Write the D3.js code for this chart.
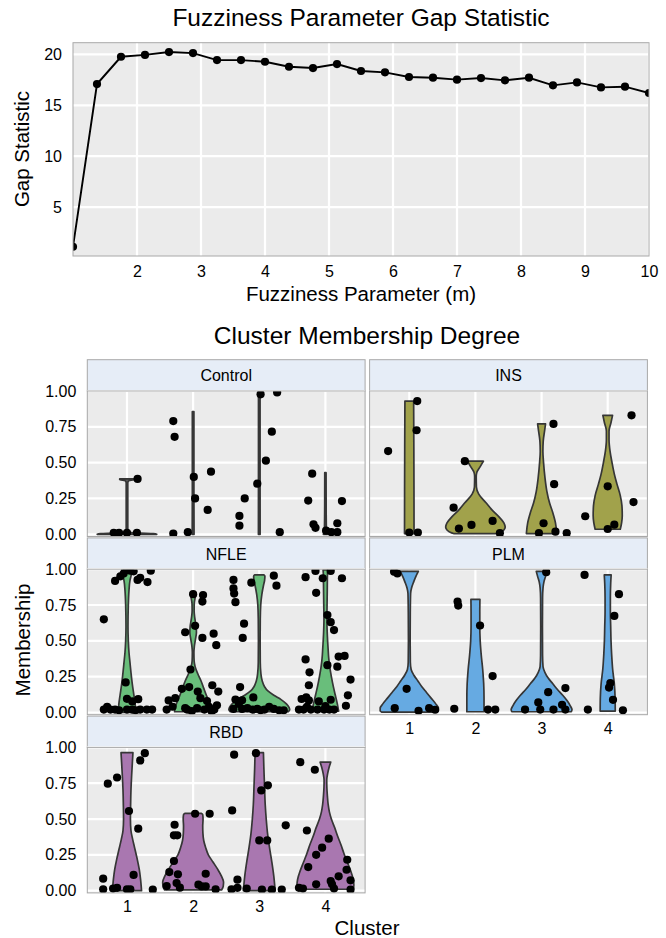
<!DOCTYPE html>
<html>
<head>
<meta charset="utf-8">
<script src="https://cdn.jsdelivr.net/npm/d3@7"></script>
<style>
  body { margin: 0; background: #fff; }
  svg { font-family: "Liberation Sans", Arial, sans-serif; }
</style>
</head>
<body>
<svg id="graph"></svg>
<script>
// ---- top chart data ----
var gapM = [1, 1.375, 1.75, 2.125, 2.5, 2.875, 3.25, 3.625, 4, 4.375, 4.75, 5.125, 5.5,
  5.875, 6.25, 6.625, 7, 7.375, 7.75, 8.125, 8.5, 8.875, 9.25, 9.625, 10];
var gapStat = [1.11, 17.09, 19.77, 19.95, 20.23, 20.13, 19.44, 19.44, 19.28, 18.79, 18.66, 19.05, 18.37,
  18.24, 17.78, 17.71, 17.52, 17.68, 17.45, 17.71, 16.96, 17.25, 16.76, 16.83, 16.21];
var gapXTicks = [2, 3, 4, 5, 6, 7, 8, 9, 10];
var gapYTicks = [5, 10, 15, 20];

// ---- facet data ----
var groups = ['Control', 'INS', 'NFLE', 'PLM', 'RBD'];
var clusters = [1, 2, 3, 4];
var memberTicks = [0, 0.25, 0.5, 0.75, 1];

// points: [jittered cluster position, membership]
var pointsControl = [[0.80,0.01],[0.88,0.01],[1.00,0.01],[1.15,0.01],[1.16,0.386],
  [1.70,0.79],[1.72,0.68],[1.70,0.005],[1.92,0.015],[2.01,0.40],[2.03,0.25],[2.27,0.437],[2.22,0.17],
  [2.70,0.128],[2.70,0.06],[2.78,0.25],[2.97,0.353],[3.02,0.977],[3.27,0.99],[3.19,0.716],[3.10,0.514],[3.31,0.015],
  [3.80,0.423],[3.74,0.235],[3.82,0.07],[3.85,0.045],[4.01,0.025],[4.09,0.015],[4.18,0.015],[4.18,0.077],[4.25,0.232]];
var pointsINS = [[0.68,0.581],[1.12,0.93],[1.11,0.726],[1.0,0.012],[1.13,0.012],
  [1.84,0.51],[1.67,0.186],[1.75,0.04],[1.94,0.065],[2.26,0.093],[2.37,0.008],
  [3.18,0.77],[3.19,0.35],[3.03,0.077],[2.96,0.008],[3.21,0.018],[3.38,0.008],
  [4.36,0.83],[4.0,0.335],[4.39,0.225],[3.66,0.126],[4.10,0.067],[4.0,0.037]];
var pointsNFLE = [[0.82,0.918],[0.90,0.95],[0.95,0.97],[1.0,0.995],[1.05,0.99],[1.16,0.925],[1.2,0.94],[1.31,0.91],
  [1.36,0.99],[1.1,0.985],[0.65,0.65],[0.98,0.21],[1.0,0.095],[1.08,0.077],[1.17,0.093],[0.65,0.02],[0.70,0.04],
  [0.75,0.02],[0.82,0.02],[1.0,0.02],[1.08,0.02],[1.2,0.02],[1.30,0.02],[1.38,0.02],[0.88,0.015],[1.13,0.015],
  [2.0,0.826],[2.15,0.82],[2.14,0.774],[1.88,0.56],[2.03,0.605],[2.14,0.52],[2.31,0.55],[2.35,0.47],[1.96,0.30],
  [1.83,0.165],[1.94,0.177],[2.07,0.146],[2.29,0.19],[2.38,0.146],[1.63,0.084],[1.73,0.10],[2.11,0.10],[2.21,0.08],
  [1.6,0.02],[1.69,0.04],[1.88,0.03],[1.91,0.02],[2.06,0.03],[2.17,0.02],[2.24,0.04],[2.32,0.02],[2.36,0.05],[1.98,0.01],[2.28,0.01],
  [2.61,0.925],[2.61,0.866],[2.62,0.83],[2.64,0.77],[2.88,0.906],[3.22,0.955],[3.26,0.885],[2.77,0.62],[2.75,0.52],
  [2.71,0.177],[2.91,0.105],[2.64,0.09],[2.69,0.06],[2.74,0.085],[2.61,0.025],[2.74,0.025],[2.82,0.03],[2.97,0.025],
  [3.02,0.015],[3.15,0.04],[3.22,0.025],[3.30,0.015],[3.37,0.015],[2.9,0.02],[3.08,0.02],
  [3.70,0.944],[3.85,0.988],[4.08,0.988],[3.96,0.937],[4.25,0.937],[3.86,0.835],[4.03,0.68],[4.08,0.63],[4.13,0.575],
  [3.70,0.37],[3.76,0.28],[3.75,0.19],[4.03,0.33],[4.20,0.39],[4.29,0.395],[4.18,0.32],[4.38,0.23],[4.34,0.12],
  [4.31,0.047],[3.64,0.094],[3.71,0.105],[3.75,0.084],[3.90,0.077],[4.08,0.089],[3.60,0.02],[3.67,0.02],[3.78,0.02],
  [3.88,0.02],[3.98,0.02],[4.06,0.02],[4.13,0.02],[3.72,0.04],[4.0,0.045]];
var pointsPLM = [[0.77,0.983],[0.82,0.97],[0.96,0.165],[0.78,0.03],[1.14,0.012],[1.30,0.03],[1.39,0.019],
  [1.73,0.774],[1.74,0.746],[2.07,0.607],[2.26,0.254],[1.68,0.026],[2.19,0.02],[2.30,0.02],
  [3.07,0.979],[3.10,0.142],[3.36,0.17],[2.95,0.07],[3.31,0.054],[2.75,0.02],[2.98,0.02],[3.18,0.02],[3.36,0.02],
  [3.65,0.96],[4.17,0.826],[4.10,0.674],[4.04,0.205],[4.02,0.174],[4.08,0.088],[3.70,0.02],[4.23,0.015]];
var pointsRBD = [[0.71,0.747],[0.85,0.79],[1.03,0.556],[1.17,0.433],[1.20,0.909],[1.27,0.96],[1.10,0.11],[0.64,0.084],
  [0.64,0.01],[0.79,0.015],[0.85,0.02],[1.0,0.01],[1.05,0.01],[1.39,0.008],
  [1.72,0.46],[1.71,0.386],[1.76,0.386],[1.71,0.207],[1.64,0.13],[1.77,0.114],[2.03,0.537],[2.25,0.537],[2.19,0.118],
  [1.6,0.032],[1.75,0.053],[1.8,0.021],[2.08,0.042],[2.13,0.03],[2.19,0.03],[2.34,0.01],
  [2.62,0.949],[2.95,0.96],[2.59,0.56],[3.03,0.70],[3.13,0.735],[3.0,0.351],[3.12,0.351],[3.40,0.456],[2.67,0.077],
  [2.58,0.01],[2.67,0.02],[2.81,0.015],[3.04,0.008],[3.19,0.008],[3.34,0.008],
  [3.62,0.897],[3.84,0.844],[3.72,0.42],[4.05,0.363],[3.95,0.30],[3.86,0.25],[3.74,0.165],[4.33,0.216],[4.32,0.146],
  [4.20,0.10],[4.38,0.072],[3.86,0.044],[4.08,0.067],[4.10,0.044],[3.60,0.02],[3.66,0.015],[4.13,0.015],[4.38,0.008]];

// violin profiles per cluster: [membership, half width of density (cluster units)]
var violinControl = [
  [[0,0.45],[0.004,0.4],[0.008,0.2],[0.013,0.02],[0.03,0.012],[0.36,0.012],[0.375,0.03],[0.38,0.11],[0.386,0.11]],
  [[0,0.014],[0.3,0.012],[0.6,0.012],[0.856,0.012]],
  [[0,0.013],[0.5,0.012],[0.99,0.012]],
  [[0,0.03],[0.03,0.015],[0.2,0.011],[0.43,0.01]]];
var violinINS = [
  [[0.005,0.072],[0.3,0.071],[0.6,0.069],[0.93,0.066]],
  [[0.005,0.33],[0.01,0.36],[0.03,0.43],[0.05,0.45],[0.08,0.43],[0.12,0.36],[0.17,0.25],[0.22,0.16],[0.28,0.05],
   [0.33,0.015],[0.40,0.012],[0.43,0.02],[0.47,0.07],[0.51,0.12]],
  [[0.005,0.23],[0.08,0.21],[0.15,0.17],[0.22,0.12],[0.30,0.08],[0.40,0.05],[0.50,0.03],[0.58,0.02],[0.65,0.025],
   [0.72,0.045],[0.77,0.06]],
  [[0.035,0.19],[0.08,0.21],[0.13,0.22],[0.20,0.215],[0.27,0.19],[0.35,0.14],[0.42,0.10],[0.50,0.065],[0.58,0.035],
   [0.66,0.02],[0.72,0.02],[0.78,0.05],[0.83,0.073]]];
var violinNFLE = [
  [[0,0.13],[0.05,0.125],[0.12,0.105],[0.20,0.08],[0.28,0.06],[0.35,0.045],[0.42,0.03],[0.50,0.02],[0.60,0.015],
   [0.75,0.02],[0.85,0.03],[0.92,0.045],[0.96,0.065],[1.0,0.08]],
  [[0.005,0.28],[0.03,0.275],[0.07,0.245],[0.12,0.2],[0.17,0.16],[0.22,0.12],[0.27,0.07],[0.32,0.03],[0.36,0.015],
   [0.42,0.012],[0.46,0.018],[0.51,0.035],[0.56,0.05],[0.60,0.045],[0.66,0.025],[0.71,0.015],[0.76,0.017],[0.80,0.03],[0.833,0.045]],
  [[0.005,0.44],[0.02,0.46],[0.035,0.45],[0.06,0.41],[0.09,0.33],[0.12,0.22],[0.15,0.13],[0.18,0.08],[0.22,0.045],
   [0.27,0.025],[0.35,0.015],[0.50,0.013],[0.65,0.015],[0.75,0.022],[0.82,0.038],[0.89,0.065],[0.92,0.08],[0.95,0.085],[0.96,0.07]],
  [[0.01,0.2],[0.06,0.18],[0.12,0.15],[0.18,0.12],[0.25,0.09],[0.32,0.065],[0.38,0.05],[0.45,0.04],[0.55,0.028],
   [0.65,0.022],[0.75,0.025],[0.85,0.028],[0.95,0.03],[0.995,0.035]]];
var violinPLM = [
  [[0.003,0.42],[0.01,0.44],[0.03,0.44],[0.06,0.40],[0.10,0.33],[0.14,0.26],[0.18,0.19],[0.22,0.13],[0.26,0.07],
   [0.30,0.028],[0.35,0.016],[0.5,0.013],[0.7,0.015],[0.83,0.02],[0.87,0.035],[0.91,0.065],[0.95,0.1],[0.985,0.137]],
  [[0.005,0.13],[0.1,0.13],[0.2,0.125],[0.3,0.11],[0.4,0.088],[0.5,0.072],[0.6,0.066],[0.7,0.066],[0.79,0.068]],
  [[0.005,0.45],[0.02,0.46],[0.05,0.43],[0.08,0.39],[0.12,0.32],[0.16,0.24],[0.2,0.17],[0.24,0.1],[0.28,0.05],
   [0.32,0.022],[0.4,0.015],[0.6,0.013],[0.8,0.015],[0.87,0.022],[0.91,0.035],[0.95,0.06],[0.985,0.08]],
  [[0.01,0.114],[0.1,0.112],[0.2,0.1],[0.3,0.075],[0.4,0.06],[0.5,0.05],[0.6,0.045],[0.7,0.04],[0.8,0.04],
   [0.9,0.045],[0.96,0.052]]];
var violinRBD = [
  [[0.0,0.22],[0.08,0.205],[0.15,0.185],[0.22,0.155],[0.3,0.115],[0.36,0.085],[0.42,0.06],[0.5,0.052],[0.6,0.055],
   [0.7,0.06],[0.8,0.07],[0.9,0.082],[0.963,0.09]],
  [[0.005,0.43],[0.03,0.455],[0.06,0.46],[0.1,0.43],[0.15,0.37],[0.2,0.3],[0.25,0.23],[0.3,0.19],[0.35,0.16],
   [0.4,0.148],[0.45,0.145],[0.5,0.15],[0.53,0.145],[0.54,0.12]],
  [[0.0,0.24],[0.1,0.22],[0.2,0.19],[0.3,0.155],[0.4,0.125],[0.5,0.105],[0.6,0.09],[0.75,0.078],[0.85,0.07],[0.963,0.063]],
  [[0.01,0.42],[0.04,0.43],[0.08,0.42],[0.14,0.38],[0.2,0.33],[0.26,0.28],[0.32,0.235],[0.38,0.185],[0.44,0.14],
   [0.5,0.09],[0.55,0.06],[0.6,0.042],[0.66,0.03],[0.72,0.022],[0.77,0.02],[0.82,0.035],[0.86,0.055],[0.897,0.08]]];

var groupPoints = [pointsControl, pointsINS, pointsNFLE, pointsPLM, pointsRBD];
var groupViolins = [violinControl, violinINS, violinNFLE, violinPLM, violinRBD];
var groupColors = ['#5e5e5e', '#A1A24B', '#69BE7B', '#66AAE2', '#A977B0'];

var svgWidth = 666;
var svgHeight = 938;
var svg = d3.select('#graph')
    .attr('width', svgWidth)
    .attr('height', svgHeight);

var defs = svg.append('defs');
var panelBg = '#EBEBEB';
var borderCol = '#A8A8A8';

// ============ top chart ============
var gapBox = { left: 73, right: 649, top: 42.7, bottom: 256 };
var gx = d3.scaleLinear().domain([1, 10]).range([gapBox.left, gapBox.right]);
var gy = d3.scaleLinear().domain([0.2, 21.15]).range([gapBox.bottom, gapBox.top]);

defs.append('clipPath').attr('id', 'clipTop')
  .append('rect')
    .attr('x', gapBox.left).attr('y', gapBox.top)
    .attr('width', gapBox.right - gapBox.left).attr('height', gapBox.bottom - gapBox.top);

svg.append('rect')
    .attr('x', gapBox.left).attr('y', gapBox.top)
    .attr('width', gapBox.right - gapBox.left).attr('height', gapBox.bottom - gapBox.top)
    .attr('fill', panelBg);

svg.append('g').selectAll('line')
    .data(gapXTicks)
    .enter().append('line')
    .attr('x1', d => gx(d)).attr('x2', d => gx(d))
    .attr('y1', gapBox.top).attr('y2', gapBox.bottom)
    .attr('stroke', '#fff').attr('stroke-width', 2.2);
svg.append('g').selectAll('line')
    .data(gapYTicks)
    .enter().append('line')
    .attr('x1', gapBox.left).attr('x2', gapBox.right)
    .attr('y1', d => gy(d)).attr('y2', d => gy(d))
    .attr('stroke', '#fff').attr('stroke-width', 2.2);

var gapPts = gapM.map((m, i) => [m, gapStat[i]]);
var gTop = svg.append('g').attr('clip-path', 'url(#clipTop)');
gTop.append('path')
    .datum(gapPts)
    .attr('fill', 'none')
    .attr('stroke', '#000')
    .attr('stroke-width', 1.9)
    .attr('d', d3.line().x(d => gx(d[0])).y(d => gy(d[1])));
gTop.selectAll('circle')
    .data(gapPts)
    .enter().append('circle')
    .attr('cx', d => gx(d[0])).attr('cy', d => gy(d[1]))
    .attr('r', 4.1).attr('fill', '#000');

svg.append('rect')
    .attr('x', gapBox.left).attr('y', gapBox.top)
    .attr('width', gapBox.right - gapBox.left).attr('height', gapBox.bottom - gapBox.top)
    .attr('fill', 'none').attr('stroke', borderCol).attr('stroke-width', 1);

// axes
var xAxisTop = svg.append('g')
    .attr('transform', 'translate(0,' + gapBox.bottom + ')')
    .call(d3.axisBottom(gx).tickValues(gapXTicks).tickSize(0).tickPadding(10).tickFormat(d3.format('d')));
var yAxisTop = svg.append('g')
    .attr('transform', 'translate(' + gapBox.left + ',0)')
    .call(d3.axisLeft(gy).tickValues(gapYTicks).tickSize(0).tickPadding(11));
[xAxisTop, yAxisTop].forEach(function (a) {
  a.select('.domain').remove();
  a.selectAll('text').attr('font-size', 16).attr('fill', '#000').attr('font-family', null);
});

svg.append('text')
    .attr('x', 361).attr('y', 26)
    .attr('text-anchor', 'middle')
    .attr('font-size', 24.5)
    .text('Fuzziness Parameter Gap Statistic');
svg.append('text')
    .attr('x', 361).attr('y', 301)
    .attr('text-anchor', 'middle')
    .attr('font-size', 20.5)
    .text('Fuzziness Parameter (m)');
svg.append('text')
    .attr('transform', 'translate(29,149) rotate(-90)')
    .attr('text-anchor', 'middle')
    .attr('font-size', 20.5)
    .text('Gap Statistic');

// ============ facets ============
svg.append('text')
    .attr('x', 367).attr('y', 344)
    .attr('text-anchor', 'middle')
    .attr('font-size', 24.5)
    .text('Cluster Membership Degree');

var colX = [87.3, 369.6];
var panelW = 277.8;
var stripTop0 = 359.7;
var rowPitch = 178.2;
var stripH = 31.3;
var panelH = 145.5;

groups.forEach(function (g, gi) {
  var col = gi % 2;
  var row = Math.floor(gi / 2);
  var x0 = colX[col];
  var sTop = stripTop0 + row * rowPitch;
  var pTop = sTop + stripH;

  var x = d3.scaleLinear().domain([0.4, 4.6]).range([x0, x0 + panelW]);
  var y = d3.scaleLinear().domain([-0.0155, 1]).range([pTop + panelH, pTop]);

  // strip
  svg.append('rect')
      .attr('x', x0).attr('y', sTop)
      .attr('width', panelW).attr('height', stripH)
      .attr('fill', '#E6EDF7').attr('stroke', borderCol).attr('stroke-width', 1);
  svg.append('text')
      .attr('x', x0 + panelW / 2).attr('y', sTop + stripH / 2 + 6)
      .attr('text-anchor', 'middle')
      .attr('font-size', 16)
      .text(g);

  // panel
  svg.append('rect')
      .attr('x', x0).attr('y', pTop)
      .attr('width', panelW).attr('height', panelH)
      .attr('fill', panelBg);
  svg.append('g').selectAll('line')
      .data(clusters)
      .enter().append('line')
      .attr('x1', d => x(d)).attr('x2', d => x(d))
      .attr('y1', pTop).attr('y2', pTop + panelH)
      .attr('stroke', '#fff').attr('stroke-width', 2.2);
  svg.append('g').selectAll('line')
      .data(memberTicks)
      .enter().append('line')
      .attr('x1', x0).attr('x2', x0 + panelW)
      .attr('y1', d => y(d)).attr('y2', d => y(d))
      .attr('stroke', '#fff').attr('stroke-width', 2.2);

  defs.append('clipPath').attr('id', 'clip' + gi)
    .append('rect')
      .attr('x', x0).attr('y', pTop)
      .attr('width', panelW).attr('height', panelH);
  var gp = svg.append('g').attr('clip-path', 'url(#clip' + gi + ')');

  var violin = function (c) {
    return d3.area()
      .curve(d3.curveMonotoneY)
      .y(d => y(d[0]))
      .x0(d => x(c - d[1]))
      .x1(d => x(c + d[1]));
  };
  gp.selectAll('path.violin')
      .data(groupViolins[gi])
      .enter().append('path')
      .attr('class', 'violin')
      .attr('d', (d, i) => violin(clusters[i])(d))
      .attr('fill', groupColors[gi])
      .attr('stroke', '#363636')
      .attr('stroke-width', 1.7)
      .attr('stroke-linejoin', 'round');

  gp.selectAll('circle')
      .data(groupPoints[gi])
      .enter().append('circle')
      .attr('cx', d => x(d[0])).attr('cy', d => y(d[1]))
      .attr('r', 4.1).attr('fill', '#000');

  svg.append('rect')
      .attr('x', x0).attr('y', pTop)
      .attr('width', panelW).attr('height', panelH)
      .attr('fill', 'none').attr('stroke', borderCol).attr('stroke-width', 1);

  if (col === 0) {
    var ya = svg.append('g')
        .attr('transform', 'translate(' + x0 + ',0)')
        .call(d3.axisLeft(y).tickValues(memberTicks).tickSize(0).tickPadding(11).tickFormat(d3.format('.2f')));
    ya.select('.domain').remove();
    ya.selectAll('text').attr('font-size', 16).attr('fill', '#000').attr('font-family', null);
  }
  if (gi >= groups.length - 2) {
    var xa = svg.append('g')
        .attr('transform', 'translate(0,' + (pTop + panelH) + ')')
        .call(d3.axisBottom(x).tickValues(clusters).tickSize(0).tickPadding(8).tickFormat(d3.format('d')));
    xa.select('.domain').remove();
    xa.selectAll('text').attr('font-size', 16).attr('fill', '#000').attr('font-family', null);
  }
});

svg.append('text')
    .attr('x', 367).attr('y', 935)
    .attr('text-anchor', 'middle')
    .attr('font-size', 20.5)
    .text('Cluster');
svg.append('text')
    .attr('transform', 'translate(30,640) rotate(-90)')
    .attr('text-anchor', 'middle')
    .attr('font-size', 20.5)
    .text('Membership');
</script>
</body>
</html>
